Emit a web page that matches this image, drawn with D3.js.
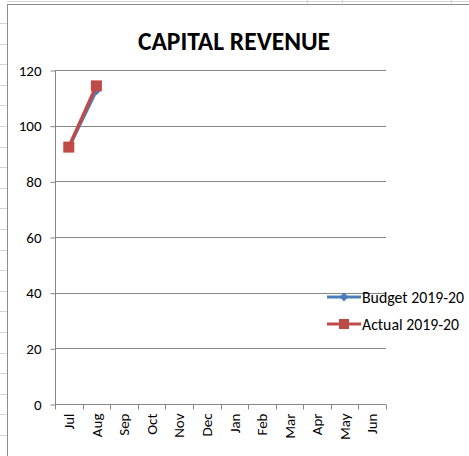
<!DOCTYPE html>
<html><head><meta charset="utf-8">
<script src="https://cdn.jsdelivr.net/npm/d3@7"></script>
<style>body{margin:0;background:#fff}svg{display:block}text{font-family:Calibri,Carlito,Lato,"Open Sans",sans-serif}</style>
</head><body><svg id="c" width="469" height="456"></svg>
<script>
const months = ["Jul","Aug","Sep","Oct","Nov","Dec","Jan","Feb","Mar","Apr","May","Jun"];
const budget = [92, 112.5];
const actual = [92.3, 114.3];
const yTicks = [0,20,40,60,80,100,120];
const seriesNames = ["Budget 2019-20","Actual 2019-20"];

const svg = d3.select("#c");
const FS = "15px";
// spreadsheet background
const sheetRows = d3.range(23, 456, 20.6);
svg.selectAll(".row").data(sheetRows).enter().append("line")
  .attr("x1",0).attr("x2",7).attr("y1",d=>Math.round(d)+0.5).attr("y2",d=>Math.round(d)+0.5)
  .attr("stroke","#d4d4d4");
svg.append("line").attr("x1",7).attr("x2",469).attr("y1",1.5).attr("y2",1.5).attr("stroke","#d4d4d4");
[307,342,451].forEach(x=>svg.append("line").attr("x1",x+0.5).attr("x2",x+0.5).attr("y1",0).attr("y2",3).attr("stroke","#d4d4d4"));
svg.append("rect").attr("x",7.5).attr("y",4.5).attr("width",470).attr("height",460)
  .attr("fill","#fff").attr("stroke","#8c8c8c");

const x = d3.scaleBand().domain(months).range([55,386]);
const y = d3.scaleLinear().domain([0,120]).range([404,70]);

// gridlines
svg.append("g").selectAll("line").data(yTicks.filter(d=>d>0)).enter().append("line")
  .attr("x1",55).attr("x2",386).attr("y1",d=>Math.round(y(d))+0.5).attr("y2",d=>Math.round(y(d))+0.5)
  .attr("stroke","#868686");

// y axis
const ya = svg.append("g").attr("transform","translate(55.5,0.5)")
  .call(d3.axisLeft(y).tickValues(yTicks).tickSize(5).tickPadding(9));
ya.select(".domain").attr("stroke","#868686").attr("d","M0,"+Math.round(y(120))+"V"+Math.round(y(0)));
ya.selectAll(".tick line").attr("stroke","#868686");
ya.selectAll(".tick text").attr("font-size",FS).attr("fill","#000").attr("font-family","Calibri,Carlito,Lato,sans-serif");

// x axis
const xa = svg.append("g").attr("transform","translate(0,"+(Math.round(y(0))+0.5)+")")
  .call(d3.axisBottom(x).tickSize(0).tickPadding(0));
xa.select(".domain").attr("stroke","#868686").attr("d","M55,0H386");
xa.selectAll(".tick line").remove();
const edges = months.map(m=>x(m)).concat([386]);
xa.selectAll(".edge").data(edges).enter().append("line")
  .attr("x1",d=>Math.round(d)+0.5).attr("x2",d=>Math.round(d)+0.5).attr("y1",0).attr("y2",5).attr("stroke","#868686");
xa.selectAll(".tick text").attr("font-size",FS).attr("fill","#000")
  .attr("font-family","Calibri,Carlito,Lato,sans-serif")
  .attr("transform","translate(0,9) rotate(-90)").attr("text-anchor","end").attr("dy","0.35em").attr("y",0).attr("x",0);

// title
svg.append("text").attr("x",234).attr("y",50).attr("text-anchor","middle")
  .attr("font-size","25.5px").attr("font-weight","bold").text("CAPITAL REVENUE");

const line = d3.line().x((d,i)=>x(months[i])+x.bandwidth()/2).y(d=>y(d));
const blue="#4A7EBB", red="#BE4B48";
svg.append("path").datum(budget).attr("d",line).attr("fill","none").attr("stroke",blue).attr("stroke-width",3);
svg.selectAll(".bm").data(budget).enter().append("path")
  .attr("d",d3.symbol(d3.symbolDiamond2,50)())
  .attr("transform",(d,i)=>"translate("+(x(months[i])+x.bandwidth()/2)+","+y(d)+")").attr("fill",blue);
svg.append("path").datum(actual).attr("d",line).attr("fill","none").attr("stroke",red).attr("stroke-width",3.5);
svg.selectAll(".am").data(actual).enter().append("rect")
  .attr("x",(d,i)=>x(months[i])+x.bandwidth()/2-5.5).attr("y",d=>y(d)-5.5)
  .attr("width",11).attr("height",11).attr("fill",red);

// legend
const lg = svg.append("g");
const ly = [297,324];
seriesNames.forEach((n,i)=>{
  const c = i===0?blue:red;
  lg.append("line").attr("x1",327).attr("x2",361).attr("y1",ly[i]).attr("y2",ly[i]).attr("stroke",c).attr("stroke-width",3);
  if(i===0) lg.append("path").attr("d",d3.symbol(d3.symbolDiamond2,50)()).attr("transform","translate(344,"+ly[i]+")").attr("fill",c);
  else lg.append("rect").attr("x",339).attr("y",ly[i]-5).attr("width",10).attr("height",10).attr("fill",c);
  lg.append("text").attr("x",362).attr("y",ly[i]).attr("dy","0.35em").attr("font-size","15.8px").text(n);
});
</script></body></html>
